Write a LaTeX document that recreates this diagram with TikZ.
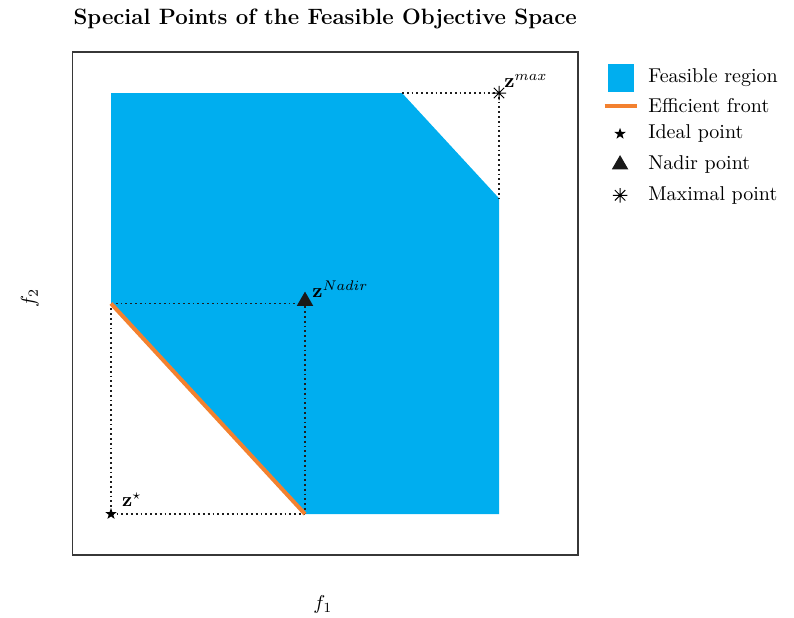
\documentclass[tikz,border=0pt]{standalone}
\usepackage{amssymb}
\usepackage{xcolor}
\usepackage{tikz}
\usetikzlibrary{shapes.geometric}
\definecolor{clrFeas}{RGB}{0,174,239}
\definecolor{clrFront}{RGB}{243,129,47}
\definecolor{clrFrame}{RGB}{55,55,55}
\definecolor{clrGuide}{RGB}{30,30,30}
\tikzset{
  frame/.style={draw=clrFrame,line width=0.7pt},
  guide/.style={draw=clrGuide,line width=0.6pt,dash pattern=on 0.9pt off 1.5pt},
  front/.style={draw=clrFront,line width=2pt},
  idealmark/.style={star,star points=5,star point ratio=2.5,fill=black,inner sep=0pt,minimum size=6pt},
  nadirmark/.style={regular polygon,regular polygon sides=3,fill=black!90,inner sep=0pt,minimum size=9.5pt},
  maxmark/.pic={\draw[line width=0.5pt] (-3.6pt,0)--(3.6pt,0) (0,-3.6pt)--(0,3.6pt)
    (-2.6pt,-2.6pt)--(2.6pt,2.6pt) (-2.6pt,2.6pt)--(2.6pt,-2.6pt);},
  ptlabel/.style={above right,inner sep=1.5pt,font=\normalsize},
  legtext/.style={anchor=west,inner sep=0pt,font=\normalsize},
  axlabel/.style={font=\normalsize}
}
\begin{document}
\begin{tikzpicture}[x=19.4pt,y=21.05pt]
  \useasboundingbox (-2.861,-2.447) rectangle (17.603,12.209);
  \node[font=\fontsize{11.1}{13}\selectfont\bfseries] (title) at (5.52,11.76) {Special Points of the Feasible Objective Space};
  \draw[frame] (-1.0,-0.97) rectangle (12.04,10.97);
  \fill[clrFeas] (0,5) -- (0,10) -- (7.5,10) -- (10,7.5) -- (10,0) -- (5,0) -- cycle;
  \coordinate (ideal) at (0,0);
  \coordinate (nadir) at (5,5);
  \coordinate (maxpt) at (10,10);
  \coordinate (frontL) at (0,5);
  \coordinate (frontR) at (5,0);
  \coordinate (topcut) at (7.5,10);
  \coordinate (sidecut) at (10,7.5);
  \draw[guide] (frontL) -- (nadir) -- (frontR);
  \draw[guide] (frontL) -- (ideal) -- (frontR);
  \draw[guide] (topcut) -- (maxpt) -- (sidecut);
  \draw[front] (frontL) -- (frontR);
  \node[idealmark] (idealpt) at (ideal) {};
  \node[nadirmark] (nadirpt) at ([yshift=1.2pt]nadir) {};
  \pic at (maxpt) {maxmark};
  \node[ptlabel] (ideallbl) at (0.2,0.1) {$\mathbf{z}^{\star}$};
  \node[ptlabel] (nadirlbl) at (5.1,5.05) {$\mathbf{z}^{Nadir}$};
  \node[ptlabel] (maxlbl) at (10.05,10.05) {$\mathbf{z}^{max}$};
  \node[axlabel] (xlbl) at (5.46,-2.14) {$f_1$};
  \node[axlabel,rotate=90] (ylbl) at (-2.09,5.13) {$f_2$};
  \fill[clrFeas] (12.82,10.02) rectangle (13.48,10.69);
  \draw[front,line width=2.4pt] (12.72,9.69) -- (13.56,9.69);
  \node[idealmark] (legideal) at (13.12,9.03) {};
  \node[nadirmark] (legnadir) at (13.12,8.30) {};
  \pic at (13.12,7.57) {maxmark};
  \node[legtext] (legfeas) at (13.84,10.36) {Feasible region};
  \node[legtext] (legfront) at (13.84,9.69) {Efficient front};
  \node[legtext] (legidl) at (13.84,9.03) {Ideal point};
  \node[legtext] (legndr) at (13.84,8.30) {Nadir point};
  \node[legtext] (legmax) at (13.84,7.57) {Maximal point};
\end{tikzpicture}
\end{document}
